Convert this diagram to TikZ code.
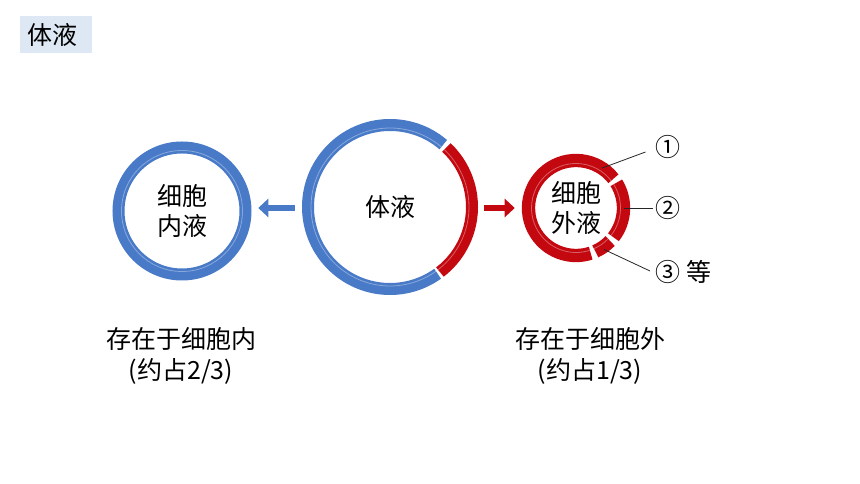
\documentclass[tikz,border=0pt]{standalone}
\usepackage{fontspec}
\setmainfont{Noto Sans CJK SC}
\usetikzlibrary{calc,arrows.meta}
\definecolor{bodyblue}{RGB}{72,122,200}
\definecolor{bodyred}{RGB}{196,8,16}
\definecolor{titlebg}{RGB}{221,232,244}
\newcommand{\ringseg}[5]{% centre, style, from, to, radius
  \draw[#2] ([shift={(#1)}]#3:#5) arc[start angle=#3,end angle=#4,radius=#5];
  \draw[shine] ([shift={(#1)}]{#3}:{#5-3}) arc[start angle=#3,end angle=#4,radius={#5-3}];
}

\begin{document}
\begin{tikzpicture}[x=0.75pt,y=0.75pt,
  txt/.style={font=\fontsize{18.75}{22.5}\selectfont,align=center,inner sep=0pt},
  ringnode/.style={txt,circle,minimum size=#1},
  titlebox/.style={txt,fill=titlebg,anchor=west,align=left,text width=43.5pt,
    inner xsep=5.25pt,minimum height=27.75pt},
  bluering/.style={draw=bodyblue,line width=9pt},
  redring/.style={draw=bodyred,line width=9pt},
  redthick/.style={draw=bodyred,line width=10pt},
  shine/.style={draw=white,line width=0.6pt,opacity=0.35},
  bluearrow/.style={draw=bodyblue,line width=5pt,-{Triangle[length=7.5pt,width=13.5pt]}},
  redarrow/.style={draw=bodyred,line width=5pt,-{Triangle[length=7.5pt,width=13.5pt]}},
  leader/.style={draw=black!85,line width=0.6pt}]
   \fill[white] (0,0) rectangle (860,484);
   \useasboundingbox (0,0) rectangle (860,484);
   \node[titlebox] (title) at (20,449.5) {体液};
   % the three rings
   \node[ringnode=104.25pt] (nei) at (182,273) {细胞\\内液};
   \node[ringnode=132pt] (ti) at (390,277) {体液};
   \node[ringnode=81pt] (wai) at (576,276) {细胞\\外液};
   \ringseg{nei}{bluering}{0}{360}{63.5}
   \ringseg{ti}{bluering}{49.5}{305.5}{82}
   \ringseg{ti}{redring}{-52.5}{46.5}{82}
   \ringseg{wai}{redthick}{38}{288}{47.5}
   \ringseg{wai}{redthick}{-38}{32}{47.5}
   \ringseg{wai}{redthick}{-66}{-44}{47.5}
   \draw[bluearrow] ($(ti.west)+(-7,-1)$) -- ($(nei.east)+(6.5,3)$);
   \draw[redarrow] ($(ti.east)+(6,-1)$) -- ($(wai.west)+(-7,0)$);
   % labels of the outer ring
   \node[txt,anchor=west] (n1) at (655.5,337) {①};
   \node[txt,anchor=west] (n2) at (655.5,276) {②};
   \node[txt,anchor=west] (n3) at (655.5,212) {③ 等};
   \draw[leader] ([shift={(wai)}]57:47.5) -- ($(n1.west)+(-10,-5)$);
   \draw[leader] ([shift={(wai)}]0:48) -- ($(n2.west)+(-2.5,0)$);
   \draw[leader] ([shift={(wai)}]-56:50) -- ($(n3.west)+(-5.5,1)$);
   \node[txt,font=\fontsize{18.75}{23.25}\selectfont] (neiloc) at (181,128.5) {存在于细胞内\\(约占2/3)};
   \node[txt,font=\fontsize{18.75}{23.25}\selectfont] (wailoc) at (590,128.5) {存在于细胞外\\(约占1/3)};
\end{tikzpicture}
\end{document}
